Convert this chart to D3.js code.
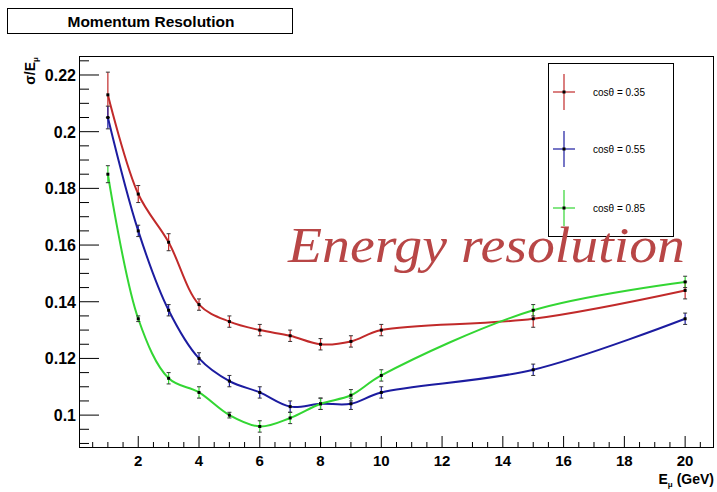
<!DOCTYPE html>
<html><head><meta charset="utf-8">
<script src="https://cdn.jsdelivr.net/npm/d3@7"></script>
<style>body{margin:0;background:#fff}svg{display:block}</style>
</head><body>
<svg id="c" width="717" height="492"></svg>
<script>
const energies = [1,2,3,4,5,6,7,8,9,10,15,20];
const seriesNames = ["cos\u03b8 = 0.35","cos\u03b8 = 0.55","cos\u03b8 = 0.85"];
const res035 = [0.213,0.178,0.161,0.139,0.133,0.130,0.128,0.125,0.126,0.130,0.134,0.144];
const err035 = [0.008,0.003,0.003,0.002,0.002,0.002,0.002,0.002,0.002,0.002,0.003,0.003];
const res055 = [0.205,0.165,0.137,0.120,0.112,0.108,0.103,0.104,0.104,0.108,0.116,0.134];
const err055 = [0.004,0.002,0.002,0.002,0.002,0.002,0.002,0.002,0.002,0.002,0.002,0.002];
const res085 = [0.185,0.134,0.113,0.108,0.100,0.096,0.099,0.104,0.107,0.114,0.137,0.147];
const err085 = [0.003,0.001,0.002,0.002,0.001,0.002,0.002,0.002,0.002,0.002,0.002,0.002];
const xTicks = [2,4,6,8,10,12,14,16,18,20];
const yTicks = [0.10,0.12,0.14,0.16,0.18,0.20,0.22];
const colors = ["#c12a2a","#1c1ca0","#33d633"];

const svg = d3.select("#c");
const L=79,R=714,T=56,B=448;
const x = d3.scaleLinear().domain([0.05,20.95]).range([L,R]);
const y = d3.scaleLinear().domain([0.0884,0.2267]).range([B,T]);

// title box
svg.append("rect").attr("x",7.5).attr("y",8.5).attr("width",285).attr("height",25)
  .attr("fill","#fff").attr("stroke","#000").attr("stroke-width",1);
svg.append("text").attr("x",151).attr("y",27).attr("text-anchor","middle")
  .attr("font-family","Liberation Sans, Arial, sans-serif").attr("font-weight","bold")
  .attr("font-size",15.5).text("Momentum Resolution");

// frame
svg.append("rect").attr("x",L+0.5).attr("y",T+0.5).attr("width",R-L-1).attr("height",B-T-1)
  .attr("fill","none").attr("stroke","#000").attr("stroke-width",1);

// x axis ticks (inward)
const xMinor = d3.range(0.5,20.95,0.5);
const gx = svg.append("g");
xMinor.forEach(v=>{
  const major = Math.abs(v/2-Math.round(v/2))<1e-9;
  gx.append("line").attr("x1",x(v)).attr("x2",x(v)).attr("y1",B).attr("y2",B-(major?12:6))
    .attr("stroke","#000");
});
gx.selectAll("text.xl").data(xTicks).enter().append("text")
  .attr("x",d=>x(d)).attr("y",B+18).attr("text-anchor","middle")
  .attr("font-family","Liberation Sans, Arial, sans-serif").attr("font-weight","bold")
  .attr("font-size",15).text(d=>d);

// y axis ticks
const yMinor = d3.range(0.09,0.2267,0.005);
const gy = svg.append("g");
yMinor.forEach(v=>{
  const major = Math.abs(v/0.02-Math.round(v/0.02))<1e-6;
  gy.append("line").attr("x1",L).attr("x2",L+(major?20:10)).attr("y1",y(v)).attr("y2",y(v))
    .attr("stroke","#000");
});
gy.selectAll("text.yl").data(yTicks).enter().append("text")
  .attr("x",L-3).attr("y",d=>y(d)+6).attr("text-anchor","end")
  .attr("font-family","Liberation Sans, Arial, sans-serif").attr("font-weight","bold")
  .attr("font-size",16).text(d=>d3.format("")(+d.toFixed(2)));

// axis titles
const yt = svg.append("text").attr("transform","translate(35,57) rotate(-90)")
  .attr("text-anchor","end").attr("font-family","Liberation Sans, Arial, sans-serif")
  .attr("font-weight","bold").attr("font-size",14);
yt.append("tspan").text("\u03c3/E");
yt.append("tspan").attr("font-size",8).attr("dy",3).text("\u03bc");
const xt = svg.append("text").attr("x",714).attr("y",484).attr("text-anchor","end")
  .attr("font-family","Liberation Sans, Arial, sans-serif").attr("font-weight","bold").attr("font-size",14);
xt.append("tspan").text("E");
xt.append("tspan").attr("font-size",8).attr("dy",3).text("\u03bc");
xt.append("tspan").attr("dy",-3).text(" (GeV)");

// series
const series = [
  {vals:res035, errs:err035, color:colors[0]},
  {vals:res055, errs:err055, color:colors[1]},
  {vals:res085, errs:err085, color:colors[2]}
];
const line = d3.line().x(d=>x(d[0])).y(d=>y(d[1])).curve(d3.curveCatmullRom.alpha(0.5));
series.forEach(s=>{
  const pts = energies.map((e,i)=>[e,s.vals[i],s.errs[i]]);
  svg.append("path").attr("d",line(pts)).attr("fill","none").attr("stroke",s.color).attr("stroke-width",2);
  const g = svg.append("g");
  pts.forEach(p=>{
    const cx=x(p[0]), y1=y(p[1]-p[2]), y2=y(p[1]+p[2]);
    g.append("line").attr("x1",cx).attr("x2",cx).attr("y1",y1).attr("y2",y2).attr("stroke",s.color).attr("stroke-width",1.2);
    [y1,y2].forEach(yy=>g.append("line").attr("x1",cx-2).attr("x2",cx+2).attr("y1",yy).attr("y2",yy).attr("stroke","#333").attr("stroke-width",1));
    g.append("rect").attr("x",cx-1.5).attr("y",y(p[1])-1.5).attr("width",3).attr("height",3).attr("fill","#000");
  });
});

// legend
svg.append("rect").attr("x",548.5).attr("y",63.5).attr("width",125).attr("height",173)
  .attr("fill","#fff").attr("stroke","#000").attr("stroke-width",1);
const legY = [92,149,208];
seriesNames.forEach((n,i)=>{
  const cy=legY[i];
  svg.append("line").attr("x1",553).attr("x2",575).attr("y1",cy).attr("y2",cy).attr("stroke",colors[i]).attr("stroke-width",1.2);
  svg.append("line").attr("x1",564).attr("x2",564).attr("y1",cy-18).attr("y2",cy+18).attr("stroke",colors[i]).attr("stroke-width",1.2);
  svg.append("rect").attr("x",562.5).attr("y",cy-1.5).attr("width",3).attr("height",3).attr("fill","#000");
  svg.append("text").attr("x",593).attr("y",cy+4).attr("font-family","Liberation Sans, Arial, sans-serif")
    .attr("font-size",10).text(n);
});

// annotation
svg.append("text").attr("x",288).attr("y",262).attr("font-family","Liberation Serif, Times New Roman, serif")
  .attr("font-style","italic").attr("font-size",50).attr("fill","#b84646")
  .attr("textLength",397).attr("lengthAdjust","spacingAndGlyphs").text("Energy resolution");
</script>
</body></html>
